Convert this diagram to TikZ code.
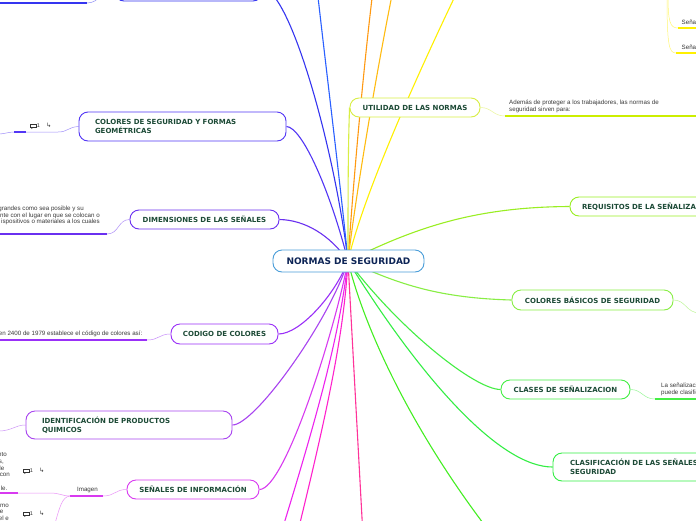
\documentclass[tikz,border=0pt]{standalone}
\usepackage{fontspec}
\setmainfont{DejaVu Sans}
\newfontfamily\smallf{Liberation Sans}
\usetikzlibrary{calc}
\pgfdeclarelayer{bg}
\pgfsetlayers{bg,main}
\definecolor{cMain}{HTML}{4A9ED9}
\definecolor{cMainTxt}{HTML}{0D2456}
\definecolor{txt}{HTML}{1C4A36}
\definecolor{stxt}{HTML}{3A3A3A}
\definecolor{icon}{HTML}{333333}
\definecolor{cTop}{HTML}{3535F0}
\definecolor{cBlue2}{HTML}{2A60FF}
\definecolor{cColsec}{HTML}{5236F5}
\definecolor{cDimen}{HTML}{6A30F0}
\definecolor{cCod}{HTML}{9A30F8}
\definecolor{cIdent}{HTML}{A844F0}
\definecolor{cSen}{HTML}{D83AF0}
\definecolor{cMag1}{HTML}{EE22EE}
\definecolor{cMag2}{HTML}{FF22CC}
\definecolor{cPink}{HTML}{FF3399}
\definecolor{cGreen}{HTML}{44EE22}
\definecolor{cClasif}{HTML}{33EE44}
\definecolor{cClases}{HTML}{44EE44}
\definecolor{cColbas}{HTML}{88EE44}
\definecolor{cRequis}{HTML}{99EE22}
\definecolor{cUtil}{HTML}{D8EE44}
\definecolor{cUtilUl}{HTML}{CCEE00}
\definecolor{cYellow}{HTML}{FFF000}
\definecolor{cOr1}{HTML}{FF9911}
\definecolor{cOr2}{HTML}{FFBB11}
\tikzset{
  box/.style={draw=#1, fill=white, rounded corners=9pt, line width=0.9pt,
    font=\bfseries\fontsize{7}{9}\selectfont, text=txt, inner sep=0pt},
  conn/.style={draw=#1, line width=1.1pt},
  sub/.style={draw=#1!55, line width=0.5pt},
  ul/.style={draw=#1, line width=1.4pt},
  st/.style={font=\smallf\fontsize{6.2}{6.6}\selectfont, text=stxt, inner sep=0pt},
  cicon/.pic={
    \draw[line width=0.55pt, draw=icon] (-2.8,-1.8) rectangle (2.8,1.4);
    \fill[icon] (-1.6,1.4) -- (0.4,1.4) -- (-1.6,3) -- cycle;
    \node[font=\smallf\fontsize{5.5}{6}\selectfont, text=icon, inner sep=0pt] (-n) at (5.5,0) {1};
    \node[font=\fontsize{6}{7}\selectfont, text=icon, inner sep=0pt] (-a) at (16,-0.6) {↳};
  }
}
\begin{document}
\begin{tikzpicture}[x=1pt, y=-1pt]
\useasboundingbox (0,0) rectangle (696,520);
\clip (0,0) rectangle (696,520);

% ---- free ends ----
\coordinate (ctr) at (348,261);
\coordinate (b2) at (317,-12);
\coordinate (m1) at (283,527);
\coordinate (m2) at (299,527);
\coordinate (p1) at (362.5,527);
\coordinate (g1) at (486,527);
\coordinate (y1) at (458,-10);
\coordinate (o1) at (373,-10);
\coordinate (o2) at (393,-10);
\coordinate (tsub1) at (87,3);
\coordinate (tsub0) at (-2,3);
\coordinate (cs1) at (58,132);
\coordinate (cs2) at (26,132);
\coordinate (cs3) at (14,132);
\coordinate (cs4) at (-2,134);
\coordinate (d1) at (107,234);
\coordinate (d0) at (-2,234);
\coordinate (k1) at (147,340);
\coordinate (k0) at (-2,340);
\coordinate (i0) at (-2,431);
\coordinate (u1) at (505,116);
\coordinate (u2) at (700,116);
\coordinate (im2) at (103,496);
\coordinate (im1) at (70,496);
\coordinate (s1) at (50,493);
\coordinate (s2) at (18,493);
\coordinate (s0) at (-2,493);
\coordinate (s3) at (54,527);
\coordinate (cb1) at (700,313);
\coordinate (cl1) at (655,399);
\coordinate (cl2) at (700,399);
\coordinate (ty0) at (668,-5);
\coordinate (ty1) at (678,28);
\coordinate (ty2) at (700,28);
\coordinate (ty3) at (667,-5);
\coordinate (ty4) at (676,53);
\coordinate (ty5) at (700,53);

% ---- nodes ----
\node[draw=cMain, fill=white, rounded corners=9pt, line width=0.9pt, inner sep=0pt,
  minimum width=151pt, minimum height=22pt, font=\bfseries\fontsize{9}{11}\selectfont,
  text=cMainTxt] (main) at (348.5,261) {NORMAS DE SEGURIDAD};

\node[box=cTop, minimum width=147pt, minimum height=25pt] (topnode) at (188.5,-11.5) {};
\node[box=cColsec, minimum width=207pt, minimum height=29pt, text width=175pt, align=left]
  (colsec) at (182.5,126.5) {COLORES DE SEGURIDAD Y FORMAS\\GEOMÉTRICAS};
\node[box=cDimen, minimum width=149pt, minimum height=19pt] (dimen) at (204.5,219.5) {DIMENSIONES DE LAS SEÑALES};
\node[box=cCod, minimum width=107pt, minimum height=20pt] (codigo) at (224.5,334) {CODIGO DE COLORES};
\node[box=cIdent, minimum width=206pt, minimum height=28pt, text width=174pt, align=left]
  (ident) at (129,425) {IDENTIFICACIÓN DE PRODUCTOS\\QUIMICOS};
\node[box=cSen, minimum width=132pt, minimum height=19pt] (seninfo) at (193,489.5) {SEÑALES DE INFORMACIÓN};
\node[box=cUtil, minimum width=130pt, minimum height=19pt] (utilidad) at (415,107.5) {UTILIDAD DE LAS NORMAS};
\node[box=cRequis, minimum width=200pt, minimum height=19pt, text width=176pt, align=left]
  (requis) at (670,206.5) {REQUISITOS DE LA SEÑALIZACIÓN};
\node[box=cColbas, minimum width=161pt, minimum height=20pt] (colbas) at (592.5,300) {COLORES BÁSICOS DE SEGURIDAD};
\node[box=cClases, minimum width=129pt, minimum height=19pt] (clases) at (565.5,389.5) {CLASES DE SEÑALIZACION};
\node[box=cClasif, minimum width=237pt, minimum height=28pt, text width=203pt, align=left]
  (clasif) at (671.5,467) {CLASIFICACIÓN DE LAS SEÑALES\\SEGURIDAD};

% ---- small texts ----
\node[st, anchor=south west, align=left] (utilsub) at (509,112.5)
  {Además de proteger a los trabajadores, las normas de\\seguridad sirven para:};
\node[st, anchor=east] (dt1) at (84,209) {grandes como sea posible y su};
\node[st, anchor=east] (dt2) at (100,215.5) {nte con el lugar en que se colocan o};
\node[st, anchor=east] (dt3) at (100,222) {ispositivos o materiales a los cuales};
\node[st, anchor=east] (ct1) at (142.5,334) {en 2400 de 1979 establece el código de colores así:};
\node[st] (imagen) at (87.5,490) {Imagen};
\node[st, anchor=east] (lt1) at (7,455) {nto};
\node[st, anchor=east] (lt2) at (4,462) {s,};
\node[st, anchor=east] (lt3) at (4.5,468) {de};
\node[st, anchor=east] (lt4) at (10,475) {con};
\node[st, anchor=east] (lt5) at (7.5,488) {le.};
\node[st, anchor=east] (lt6) at (9,506) {mo};
\node[st, anchor=east] (lt7) at (3.5,511.5) {e};
\node[st, anchor=east] (lt8) at (9,518) {el e};
\node[st, anchor=west] (cls1) at (661,385.5) {La señalizació};
\node[st, anchor=west] (cls2) at (661,392.5) {puede clasific};
\node[st, anchor=west] (sn1) at (681.5,22) {Seña};
\node[st, anchor=west] (sn2) at (681.5,47) {Seña};

\pic (ic1) at (33,126) {cicon};
\pic (ic2) at (26,471) {cicon};
\pic (ic3) at (26,514) {cicon};

% ---- connectors ----
\begin{pgfonlayer}{bg}
\clip (0,0) rectangle (696,520);
\fill[white] (0,0) rectangle (696,520);
\draw[conn=cTop] (topnode.east) .. controls (290,-11) and (335,150) .. (ctr);
\draw[conn=cBlue2] (ctr) .. controls (340,180) and (325,60) .. (b2);
\draw[conn=cOr1] (ctr) .. controls (352,200) and (362,80) .. (o1);
\draw[conn=cOr2] (ctr) .. controls (355,200) and (375,80) .. (o2);
\draw[conn=cYellow] (ctr) .. controls (362,200) and (410,90) .. (y1);
\draw[conn=cUtil] (utilidad.west) .. controls (348,150) and (348,200) .. (ctr);
\draw[conn=cColsec] (colsec.east) .. controls (302,127) and (330,190) .. (ctr);
\draw[conn=cDimen] (dimen.east) .. controls (305,220) and (330,235) .. (ctr);
\draw[conn=cCod] (codigo.east) .. controls (300,334) and (335,295) .. (ctr);
\draw[conn=cIdent] (ident.east) .. controls (255,425) and (330,320) .. (ctr);
\draw[conn=cSen] (seninfo.east) .. controls (285,489.5) and (335,330) .. (ctr);
\draw[conn=cMag1] (ctr) .. controls (340,330) and (322,400) .. (m1);
\draw[conn=cMag2] (ctr) .. controls (344,330) and (330,400) .. (m2);
\draw[conn=cPink] (ctr) -- (p1);
\draw[conn=cGreen] (ctr) .. controls (362,320) and (405,420) .. (g1);
\draw[conn=cClasif] (clasif.west) .. controls (500,467) and (422,380) .. (ctr);
\draw[conn=cClases] (clases.west) .. controls (475,389.5) and (400,330) .. (ctr);
\draw[conn=cColbas] (colbas.west) .. controls (440,298) and (400,285) .. (ctr);
\draw[conn=cRequis] (requis.west) .. controls (480,207) and (420,225) .. (ctr);
% sub connectors
\draw[sub=cTop] (topnode.west) .. controls (102,-11) and (100,3) .. (tsub1);
\draw[ul=cTop] (tsub1) -- (tsub0);
\draw[sub=cColsec] (colsec.west) .. controls (68,127) and (68,132) .. (cs1) -- (cs2);
\draw[ul=cColsec] (cs2) -- (cs3);
\draw[sub=cColsec] (cs3) .. controls (8,132) and (5,134) .. (cs4);
\draw[sub=cDimen] (dimen.west) .. controls (118,219.5) and (119,234) .. (d1);
\draw[ul=cDimen] (d1) -- (d0);
\draw[sub=cCod] (codigo.west) .. controls (159,334) and (159,340) .. (k1);
\draw[ul=cCod] (k1) -- (k0);
\draw[sub=cIdent] (ident.west) .. controls (15,425) and (12,431) .. (i0);
\draw[sub=cUtil] (utilidad.east) .. controls (492,107.5) and (493,116) .. (u1);
\draw[ul=cUtilUl] (u1) -- (u2);
\draw[sub=cSen] (seninfo.west) .. controls (115,489.5) and (115,496) .. (im2);
\draw[ul=cSen] (im2) -- (im1);
\draw[sub=cSen] (im1) .. controls (62,496) and (60,493) .. (s1) -- (s2);
\draw[ul=cSen] (s2) -- (s0);
\draw[sub=cSen] (im1) .. controls (62,497) and (60,506) .. (s3);
\draw[sub=cColbas] (colbas.east) .. controls (686,300) and (686,313) .. (cb1);
\draw[sub=cClases] (clases.east) .. controls (642,389.5) and (643,399) .. (cl1);
\draw[ul=cClases] (cl1) -- (cl2);
\draw[sub=cYellow] (ty0) .. controls (668,22) and (670,28) .. (ty1);
\draw[ul=cYellow] (ty1) -- (ty2);
\draw[sub=cYellow] (ty3) .. controls (667,46) and (669,53) .. (ty4);
\draw[ul=cYellow] (ty4) -- (ty5);
\end{pgfonlayer}
\end{tikzpicture}
\end{document}
